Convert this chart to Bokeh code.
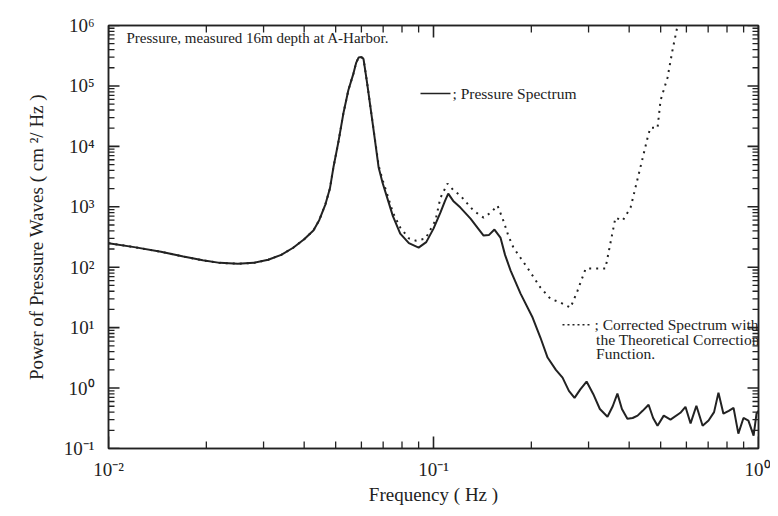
from bokeh.plotting import figure
from bokeh.models import FixedTicker, CustomJSTickFormatter, LogAxis, Label
from bokeh.embed import file_html
from bokeh.resources import INLINE

# Pressure spectrum (solid)
freq_solid = [0.0100, 0.0120, 0.0145, 0.0170, 0.0195, 0.0220, 0.0250, 0.0280, 0.0310,
              0.0340, 0.0370, 0.0400, 0.0427, 0.0445, 0.0465, 0.0480, 0.0492, 0.0510,
              0.0528, 0.0547, 0.0567, 0.0578, 0.0588, 0.0600, 0.0609, 0.0625, 0.0640,
              0.0660, 0.0678, 0.0697, 0.0717, 0.0750, 0.0790, 0.0840, 0.0900, 0.0950,
              0.1000, 0.1050, 0.1085, 0.1110, 0.1150, 0.1210, 0.1300, 0.1380, 0.1426,
              0.1480, 0.1540, 0.1607, 0.1660, 0.1727, 0.1853, 0.2018, 0.2134, 0.2244,
              0.2380, 0.2495, 0.2610, 0.2716, 0.2830, 0.2958, 0.3100, 0.3250, 0.343,
              0.356, 0.368, 0.380, 0.395, 0.410, 0.4246, 0.440, 0.459, 0.474, 0.489,
              0.511, 0.536, 0.575, 0.596, 0.618, 0.644, 0.673, 0.702, 0.730, 0.753,
              0.780, 0.810, 0.838, 0.867, 0.899, 0.931, 0.966, 0.986, 1.0]
psd_solid = [250, 215, 180, 150, 130, 118, 114, 118, 133,
             160, 210, 290, 404, 600, 1100, 2000, 4460, 12000,
             34900, 85000, 160000, 240000, 295000, 300000, 280000, 110000, 43900,
             13000, 4460, 2500, 1530, 700, 360, 250, 211, 260,
             435, 800, 1250, 1655, 1250, 970, 638, 420, 334,
             340, 420, 309, 160, 88, 36.6, 14.7, 6.8, 3.2,
             2.0, 1.49, 0.90, 0.69, 0.95, 1.28, 0.80, 0.45, 0.336,
             0.50, 0.81, 0.45, 0.311, 0.32, 0.35, 0.42, 0.53, 0.32, 0.238,
             0.35, 0.30, 0.39, 0.49, 0.26, 0.51, 0.238, 0.29, 0.40, 0.84,
             0.377, 0.42, 0.47, 0.176, 0.32, 0.29, 0.163, 0.377, 0.42]

# Corrected spectrum with the theoretical correction function (dotted)
freq_corr = [0.0100, 0.0120, 0.0145, 0.0170, 0.0195, 0.0220, 0.0250, 0.0280, 0.0310,
             0.0340, 0.0370, 0.0400, 0.0427, 0.0445, 0.0465, 0.0480, 0.0492, 0.0510,
             0.0528, 0.0547, 0.0567, 0.0578, 0.0588, 0.0600, 0.0609, 0.0625, 0.0640,
             0.0660, 0.0678, 0.0697, 0.0717, 0.0750, 0.0790, 0.0840, 0.0881, 0.0945,
             0.1014, 0.1050, 0.1104, 0.1150, 0.1210, 0.1327, 0.1426, 0.1500, 0.1574,
             0.1640, 0.1700, 0.1762, 0.1945, 0.2134, 0.2290, 0.2460, 0.2640, 0.2775,
             0.2940, 0.3380, 0.3630, 0.3820, 0.4040, 0.4330, 0.4590, 0.4660, 0.4890,
             0.4995, 0.5250, 0.5435, 0.5636, 0.5800]
psd_corr = [250, 215, 180, 150, 130, 118, 114, 118, 133,
            160, 210, 290, 404, 600, 1100, 2000, 4460, 12000,
            34900, 85000, 160000, 240000, 295000, 300000, 280000, 110000, 43900,
            13500, 4800, 2800, 1750, 800, 453, 300, 275, 298,
            592, 1400, 2420, 1900, 1530, 865, 662, 800, 1047,
            592, 330, 211, 98, 46, 30, 26, 21.4, 41,
            95, 95, 662, 592, 970, 4460, 16300, 20500, 20000,
            57300, 138000, 386000, 1000000, 2500000]

y_ticks = [1e-1, 1e0, 1e1, 1e2, 1e3, 1e4, 1e5, 1e6]
x_ticks = [0.01, 0.1, 1.0]
y_minor = [m * d for d in [1e-1, 1e0, 1e1, 1e2, 1e3, 1e4, 1e5] for m in range(2, 10)]
x_minor = [m * d for d in [0.01, 0.1] for m in range(2, 10)]

FONT = "Liberation Serif"
INK = "#222222"
X0, X1, Y0, Y1 = 0.01, 1.0, 0.1, 1e6
FW, FH = 650, 423

p = figure(x_axis_type="log", y_axis_type="log", x_range=(X0, X1), y_range=(Y0, Y1),
           frame_width=FW, frame_height=FH, output_backend="svg", toolbar_location=None,
           min_border_left=108, min_border_top=25, min_border_right=12, min_border_bottom=60,
           background_fill_color="white", border_fill_color="white")
p.xgrid.visible = False
p.ygrid.visible = False
p.outline_line_color = INK
p.outline_line_width = 1.5

bottom = p.xaxis[0]
left = p.yaxis[0]

sup_fmt = CustomJSTickFormatter(code="""
const e = Math.round(Math.log10(tick));
const sup = {'-':'\u207b','0':'\u2070','1':'\u00b9','2':'\u00b2','3':'\u00b3','4':'\u2074',
             '5':'\u2075','6':'\u2076','7':'\u2077','8':'\u2078','9':'\u2079'};
return '10' + String(e).split('').map(c => sup[c]).join('');
""")
blank_fmt = CustomJSTickFormatter(code="return '';")

top = LogAxis()
right = LogAxis()
p.add_layout(top, "above")
p.add_layout(right, "right")

for ax in [bottom, top]:
    ax.ticker = FixedTicker(ticks=x_ticks, minor_ticks=x_minor)
for ax in [left, right]:
    ax.ticker = FixedTicker(ticks=y_ticks, minor_ticks=y_minor)
for ax in [bottom, top, left, right]:
    ax.major_tick_out = 0
    ax.minor_tick_out = 0
    ax.major_tick_in = 0
    ax.minor_tick_in = 0
    ax.axis_line_color = INK
    ax.axis_line_width = 1.5
    ax.major_label_text_font = FONT
    ax.major_label_text_color = INK
    ax.major_label_text_font_size = "19px"
    ax.axis_label_text_font = FONT
    ax.axis_label_text_font_style = "normal"
    ax.axis_label_text_color = INK
    ax.axis_label_text_font_size = "19px"

for ax in [top, right]:
    ax.formatter = blank_fmt
    ax.major_label_standoff = 0
    ax.major_label_text_font_size = "1px"

bottom.formatter = sup_fmt
left.formatter = sup_fmt
bottom.major_label_standoff = 10
left.major_label_standoff = 14
bottom.axis_label = "Frequency ( Hz )"
left.axis_label = "Power of Pressure Waves ( cm \u00b2/ Hz )"
bottom.axis_label_standoff = 1
left.axis_label_standoff = 14

# inward tick marks as thin filled rectangles, centred half a tick length inside the frame
kx = lambda px: 10 ** (px * 2 / FW)   # factor for a length of px pixels along x
ky = lambda px: 10 ** (px * 7 / FH)   # factor for a length of px pixels along y
for ticks, ln, w in [(x_ticks, 12, 1.6), (x_minor, 7, 1.3)]:
    n = len(ticks)
    for yc in (Y0 * ky(ln / 2), Y1 / ky(ln / 2)):
        p.rect(x=ticks, y=[yc] * n, width=w, height=ln, width_units="screen",
               height_units="screen", fill_color=INK, line_color=None)
for ticks, ln, w in [(y_ticks, 11, 1.6), (y_minor, 6, 1.3)]:
    n = len(ticks)
    for xc in (X0 * kx(ln / 2), X1 / kx(ln / 2)):
        p.rect(x=[xc] * n, y=ticks, width=ln, height=w, width_units="screen",
               height_units="screen", fill_color=INK, line_color=None)

p.line(freq_corr, psd_corr, line_color=INK, line_width=2, line_dash="2 5")
p.line(freq_solid, psd_solid, line_color=INK, line_width=2)

# annotations
p.add_layout(Label(x=0.01136, y=6.3e5, text="Pressure, measured  16m depth at A-Harbor.",
                   text_font=FONT, text_font_size="15px", text_color=INK,
                   text_baseline="middle"))
p.line([0.0912, 0.1128], [7.5e4, 7.5e4], line_color=INK, line_width=1.5)
p.add_layout(Label(x=0.1144, y=7.5e4, text="; Pressure Spectrum",
                   text_font=FONT, text_font_size="15.5px", text_color=INK,
                   text_baseline="middle"))
p.line([0.2494, 0.304], [11.2, 11.2], line_color=INK, line_width=1.5, line_dash="2 3")
for yy, t in [(11.2, "; Corrected Spectrum with"),
              (6.3, "the Theoretical Correction"),
              (3.7, "Function.")]:
    xx = 0.313 if t.startswith(";") else 0.3165
    p.add_layout(Label(x=xx, y=yy, text=t, text_font=FONT, text_font_size="15.5px",
                       text_color=INK, text_baseline="middle"))

open("out.html", "w").write(file_html(p, INLINE))
